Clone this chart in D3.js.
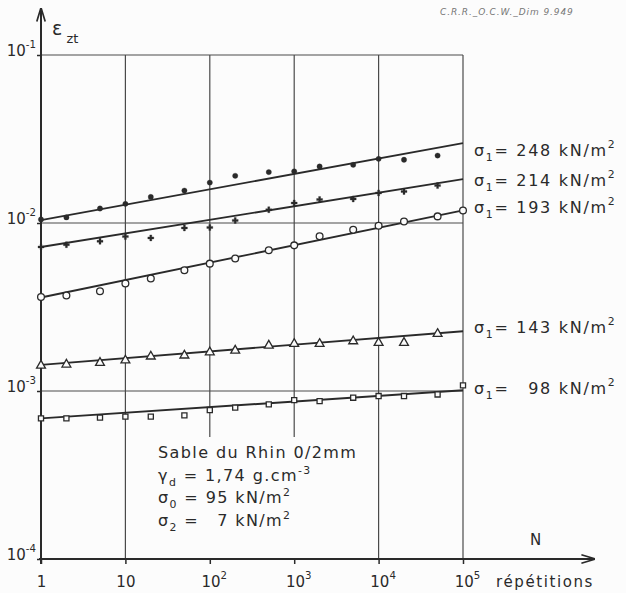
<!DOCTYPE html>
<html>
<head>
<meta charset="utf-8">
<script src="https://cdnjs.cloudflare.com/ajax/libs/d3/7.8.5/d3.min.js"></script>
<style>
  body { margin: 0; background: #fcfcfc; }
  svg { display: block; font-family: "DejaVu Sans", sans-serif; }
</style>
</head>
<body>
<div id="chart"></div>
<script>
let wSvg = 626; let hSvg = 593;
let inkColor = "#2a2a2a";
let gridColor = "#4a4a4a";
let bgColor = "#fcfcfc";

// data
const repetitions = [1, 2, 5, 10, 20, 50, 100, 200, 500, 1000, 2000, 5000, 10000, 20000, 50000, 100000];
const sigma1 = ["248", "214", "193", "143", "98"];
const eps248 = [0.0105, 0.0108, 0.0122, 0.0130, 0.0143, 0.0156, 0.0174, 0.0191, 0.0201, 0.0203, 0.0217, 0.0222, 0.0241, 0.0238, 0.0252, null];
const eps214 = [0.0072, 0.00743, 0.00778, 0.0083, 0.00815, 0.00934, 0.00941, 0.01036, 0.0120, 0.01315, 0.0138, 0.0139, 0.0151, 0.0154, 0.0167, null];
const eps193 = [0.00363, 0.0037, 0.00392, 0.00436, 0.00467, 0.00523, 0.00573, 0.00614, 0.00688, 0.00736, 0.00833, 0.00912, 0.00964, 0.01022, 0.01095, 0.01188];
const eps143 = [0.001438, 0.001458, 0.001493, 0.001542, 0.001628, 0.00165, 0.001725, 0.001766, 0.001891, 0.001936, 0.001936, 0.002006, 0.001963, 0.001963, 0.00222, null];
const eps98 = [0.000687, 0.000687, 0.000694, 0.000704, 0.000704, 0.000716, 0.00077, 0.000796, 0.000833, 0.000883, 0.000871, 0.000912, 0.000933, 0.000933, 0.000954, 0.00108];
// straight fitted lines (value at N=1 and at N=1e5)
const fitStart = [0.0104, 0.0072, 0.0036, 0.00143, 0.000687];
const fitEnd = [0.0299, 0.01825, 0.0119, 0.00227, 0.00101];

const xTicks = [1, 10, 100, 1000, 10000, 100000];
const xTickExp = ["", "", "2", "3", "4", "5"];
const yTicks = [1e-4, 1e-3, 1e-2, 1e-1];
const yTickExp = ["-4", "-3", "-2", "-1"];

const infoLines = [
  [["Sable du Rhin 0/2mm", ""]],
  [["γ", ""], ["d", "sub"], [" = 1,74 g.cm", ""], ["-3", "sup"]],
  [["σ", ""], ["0", "sub"], [" = 95 kN/m", ""], ["2", "sup"]],
  [["σ", ""], ["2", "sub"], [" = \u20077 kN/m", ""], ["2", "sup"]]
];

const allSeries = [eps248, eps214, eps193, eps143, eps98];
const markerKind = ["dot", "plus", "circle", "triangle", "square"];
const labelNudge = [7, 1, -3, -4, -2];

// svg
let svg = d3.select("#chart")
  .append("svg")
  .attr("width", wSvg)
  .attr("height", hSvg)
  .style("background", bgColor);

const x = d3.scaleLog().domain([1, 1e5]).range([41, 463]);
const y = d3.scaleLog().domain([1e-4, 1e-1]).range([559, 55]);

function richText(sel, parts, subDy, supDy) {
  let shift = 0;
  parts.forEach(([t, k]) => {
    const target = k === "sub" ? subDy : k === "sup" ? supDy : 0;
    sel.append("tspan")
      .attr("dy", target - shift)
      .attr("font-size", k ? "0.68em" : null)
      .text(t);
    shift = target;
  });
}

// grid
const grid = svg.append("g").attr("stroke", gridColor).attr("stroke-width", 1.2);
grid.selectAll("line.h")
  .data([1e-3, 1e-2, 1e-1])
  .enter().append("line")
  .attr("x1", x(1)).attr("x2", x(1e5))
  .attr("y1", d => y(d)).attr("y2", d => y(d));

const infoTop = 437; // text block cuts the 10^2 and 10^3 lines
grid.selectAll("line.v")
  .data([10, 100, 1000, 10000, 100000])
  .enter().append("line")
  .attr("x1", d => x(d)).attr("x2", d => x(d))
  .attr("y1", y(1e-1))
  .attr("y2", d => (d === 100 || d === 1000) ? infoTop : y(1e-4));

// axes
const axBottom = d3.axisBottom(x).tickValues(xTicks).tickSize(5);
const gx = svg.append("g")
  .attr("transform", `translate(0, ${y(1e-4)})`)
  .call(axBottom);
gx.select(".domain").remove();
gx.selectAll(".tick line").attr("stroke", inkColor).attr("stroke-width", 1.5);
gx.selectAll(".tick text")
  .attr("fill", inkColor)
  .attr("font-size", 15)
  .attr("font-family", "DejaVu Sans")
  .attr("y", 28).attr("dy", 0)
  .attr("dx", (d, i) => xTickExp[i] ? 4 : 0)
  .each(function (d, i) {
    const t = d3.select(this).text(null);
    richText(t, [[d === 1 ? "1" : "10", ""], [xTickExp[i], "sup"]], 5, -8);
  });

const axLeft = d3.axisLeft(y).tickValues(yTicks).tickSize(4);
const gy = svg.append("g")
  .attr("transform", `translate(${x(1)}, 0)`)
  .call(axLeft);
gy.select(".domain").remove();
gy.selectAll(".tick line").attr("stroke", inkColor).attr("stroke-width", 1.5);
gy.selectAll(".tick text")
  .attr("fill", inkColor)
  .attr("font-size", 15)
  .attr("font-family", "DejaVu Sans")
  .attr("x", -5).attr("dy", 0)
  .each(function (d, i) {
    const t = d3.select(this).text(null);
    richText(t, [["10", ""], [yTickExp[i], "sup"]], 5, -8);
  });

// arrowed axis lines
const defs = svg.append("defs");
defs.append("marker")
  .attr("id", "arrow")
  .attr("viewBox", "0 0 10 10")
  .attr("refX", 9).attr("refY", 5)
  .attr("markerWidth", 7).attr("markerHeight", 7)
  .attr("orient", "auto")
  .append("path")
  .attr("d", "M0,2 L10,5 L0,8")
  .attr("fill", "none")
  .attr("stroke", inkColor)
  .attr("stroke-width", 1.2);

svg.append("line")
  .attr("x1", x(1) - 2).attr("x2", 594)
  .attr("y1", y(1e-4)).attr("y2", y(1e-4))
  .attr("stroke", inkColor).attr("stroke-width", 2)
  .attr("marker-end", "url(#arrow)");
svg.append("line")
  .attr("x1", x(1)).attr("x2", x(1))
  .attr("y1", y(1e-4) + 5).attr("y2", 9)
  .attr("stroke", inkColor).attr("stroke-width", 2)
  .attr("marker-end", "url(#arrow)");

// fitted lines
const lineGroup = svg.append("g");
lineGroup.selectAll("line")
  .data(d3.range(allSeries.length))
  .enter().append("line")
  .attr("x1", x(1)).attr("x2", x(1e5))
  .attr("y1", i => y(fitStart[i]))
  .attr("y2", i => y(fitEnd[i]))
  .attr("stroke", inkColor)
  .attr("stroke-width", 1.9);

// markers
const symbolOf = {
  dot: d3.symbol(d3.symbolCircle, 22),
  plus: d3.symbol(d3.symbolCross, 20),
  circle: d3.symbol(d3.symbolCircle, 36),
  triangle: d3.symbol(d3.symbolTriangle, 34),
  square: d3.symbol(d3.symbolSquare, 26)
};

allSeries.forEach((values, s) => {
  const kind = markerKind[s];
  const filled = kind === "dot" || kind === "plus";
  const pts = repetitions
    .map((n, i) => ({ n: n, v: values[i] }))
    .filter(p => p.v !== null);
  svg.append("g")
    .selectAll("path")
    .data(pts)
    .enter().append("path")
    .attr("transform", d => `translate(${x(d.n)}, ${y(d.v) + (kind === "triangle" ? 1 : 0)})`)
    .attr("d", symbolOf[kind]())
    .attr("fill", filled ? inkColor : bgColor)
    .attr("stroke", inkColor)
    .attr("stroke-width", filled ? 0.3 : 1.3);
});

// series labels
const labels = svg.append("g")
  .attr("fill", inkColor)
  .attr("font-size", 16)
  .attr("letter-spacing", 1.7);
sigma1.forEach((val, s) => {
  const t = labels.append("text")
    .attr("x", 474)
    .attr("y", y(fitEnd[s]) + labelNudge[s] + 6);
  const padded = val.length < 3 ? "\u2007" + val : val;
  richText(t, [["σ", ""], ["1", "sub"], ["= " + padded + " kN/m", ""], ["2", "sup"]], 5, -8);
});

// info block
const info = svg.append("g")
  .attr("fill", inkColor)
  .attr("font-size", 16)
  .attr("letter-spacing", 1.4);
infoLines.forEach((parts, i) => {
  const t = info.append("text")
    .attr("x", 158)
    .attr("y", 458 + i * 22.7);
  richText(t, parts, 5, -7);
});

// axis titles
const yTitle = svg.append("text")
  .attr("x", 52).attr("y", 35)
  .attr("fill", inkColor)
  .attr("font-size", 19);
richText(yTitle, [["ε", ""], [" zt", "sub"]], 8, 0);

svg.append("text")
  .attr("x", 530).attr("y", 545)
  .attr("fill", inkColor)
  .attr("font-size", 15)
  .text("N");

svg.append("text")
  .attr("x", 496).attr("y", 587)
  .attr("fill", inkColor)
  .attr("font-size", 15)
  .attr("letter-spacing", 1.6)
  .text("répétitions");

svg.append("text")
  .attr("x", 440).attr("y", 15)
  .attr("fill", "#777")
  .attr("font-size", 9)
  .attr("font-style", "italic")
  .attr("letter-spacing", 0.9)
  .text("C.R.R._O.C.W._Dim 9.949");
</script>
</body>
</html>
